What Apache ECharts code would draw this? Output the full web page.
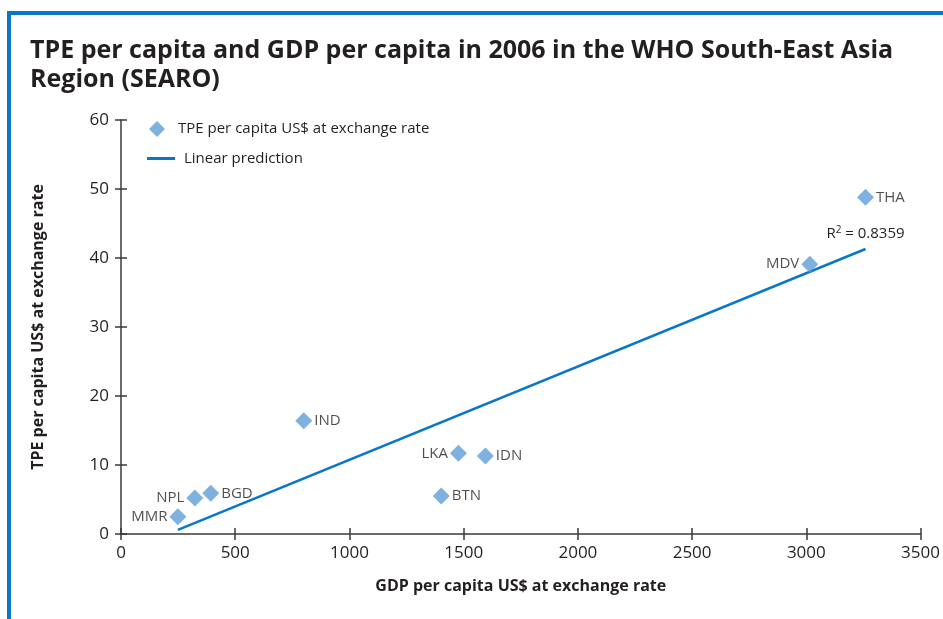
<!DOCTYPE html>
<html>
<head>
<meta charset="utf-8">
<script src="https://cdn.jsdelivr.net/npm/echarts@6/dist/echarts.min.js"></script>
<style>
  html, body { margin: 0; padding: 0; background: #fff; }
  #main { width: 943px; height: 619px; }
</style>
</head>
<body>
<div id="main"></div>
<script>
// country codes and values
const countries = ['THA', 'MDV', 'IND', 'LKA', 'IDN', 'BTN', 'BGD', 'NPL', 'MMR']
const gdpPerCapita = [3259, 3015, 800, 1477, 1595, 1402, 393, 323, 249]
const tpePerCapita = [48.8, 39.1, 16.4, 11.7, 11.3, 5.5, 5.9, 5.2, 2.5]
const labelSide = ['right', 'left', 'right', 'left', 'right', 'right', 'right', 'left', 'left']

// fitted line end points
const fitX = [249, 3259]
const fitY = [0.6, 41.3]
const rSquared = '0.8359'

const xTicks = [0, 500, 1000, 1500, 2000, 2500, 3000, 3500]
const yTicks = [0, 10, 20, 30, 40, 50, 60]

const dark = '#231f20'
const axisColor = '#3a3a3a'
const pointColor = '#5f9dd8'
const lineColor = '#0a77c6'
const font = '"Open Sans", Lato, sans-serif'

const chart = echarts.init(document.getElementById('main'))

const points = countries.map((c, i) => ({
  value: [gdpPerCapita[i], tpePerCapita[i]],
  name: c,
  label: { position: labelSide[i] }
}))

const tickStyle = { color: axisColor, width: 1.5 }

const baseX = {
  type: 'value',
  min: xTicks[0],
  max: xTicks[xTicks.length - 1],
  interval: 500,
  splitLine: { show: false },
  axisLine: { show: true, lineStyle: { color: axisColor, width: 1.5 } },
  axisTick: { show: true, length: 6, lineStyle: tickStyle }
}
const baseY = {
  type: 'value',
  min: yTicks[0],
  max: yTicks[yTicks.length - 1],
  interval: 10,
  splitLine: { show: false },
  axisLine: { show: true, lineStyle: { color: axisColor, width: 1.5 } },
  axisTick: { show: true, length: 6, lineStyle: tickStyle }
}

const legendText = { fontSize: 15, color: dark, fontFamily: font }
const nameStyle = { fontSize: 16, fontWeight: 'bold', color: dark, fontFamily: font }

chart.setOption({
  animation: false,
  textStyle: { fontFamily: font },
  graphic: [
    {
      type: 'rect',
      shape: { x: 9, y: 13, width: 960, height: 640 },
      style: { fill: 'none', stroke: lineColor, lineWidth: 4 }
    },
    {
      type: 'text',
      left: 30,
      top: 36,
      style: {
        text: 'TPE per capita and GDP per capita in 2006 in the WHO South-East Asia\nRegion (SEARO)',
        font: 'bold 25px ' + font,
        fill: dark,
        lineHeight: 29
      }
    }
  ],
  grid: { left: 121, right: 21, top: 120, bottom: 85 },
  legend: [
    {
      left: 144,
      top: 116,
      itemWidth: 16,
      itemHeight: 16,
      textStyle: Object.assign({ padding: [0, 0, 0, 8] }, legendText),
      data: [{ name: 'TPE per capita US$ at exchange rate', icon: 'diamond' }]
    },
    {
      left: 142,
      top: 146,
      itemWidth: 28,
      itemHeight: 3,
      textStyle: Object.assign({ padding: [0, 0, 0, 4] }, legendText),
      data: [{ name: 'Linear prediction', icon: 'rect' }]
    }
  ],
  xAxis: [
    Object.assign({}, baseX, {
      name: 'GDP per capita US$ at exchange rate',
      nameLocation: 'middle',
      nameGap: 44,
      nameTextStyle: nameStyle,
      axisLabel: { fontSize: 17, color: dark, margin: 11, fontFamily: font, formatter: v => String(v) }
    }),
    Object.assign({}, baseX, {
      position: 'bottom',
      axisLine: { show: false },
      axisLabel: { show: false },
      axisTick: { show: true, inside: true, length: 6, lineStyle: tickStyle }
    })
  ],
  yAxis: [
    Object.assign({}, baseY, {
      name: 'TPE per capita US$ at exchange rate',
      nameLocation: 'middle',
      nameGap: 75,
      nameTextStyle: nameStyle,
      axisLabel: { fontSize: 17, color: dark, margin: 12, fontFamily: font }
    }),
    Object.assign({}, baseY, {
      position: 'left',
      axisLine: { show: false },
      axisLabel: { show: false },
      axisTick: { show: true, inside: true, length: 6, lineStyle: tickStyle }
    })
  ],
  series: [
    {
      name: 'TPE per capita US$ at exchange rate',
      type: 'scatter',
      symbol: 'diamond',
      symbolSize: 17,
      itemStyle: { color: pointColor },
      label: {
        show: true,
        formatter: p => p.name,
        fontSize: 15,
        color: dark,
        distance: 2,
        fontFamily: font
      },
      data: points,
      z: 3
    },
    {
      name: 'Linear prediction',
      type: 'line',
      symbol: 'none',
      lineStyle: { color: lineColor, width: 2.5 },
      itemStyle: { color: lineColor },
      data: fitX.map((x, i) => [x, fitY[i]]),
      markPoint: {
        symbol: 'circle',
        symbolSize: 0,
        silent: true,
        label: {
          show: true,
          position: 'top',
          offset: [0, -1],
          formatter: 'R{sup|2} = ' + rSquared,
          fontSize: 15,
          color: dark,
          fontFamily: font,
          rich: { sup: { fontSize: 10, verticalAlign: 'top', padding: [0, 0, 8, 0], color: dark, fontFamily: font } }
        },
        data: [{ coord: [fitX[1], fitY[1]] }]
      },
      z: 2
    }
  ]
})
</script>
</body>
</html>
